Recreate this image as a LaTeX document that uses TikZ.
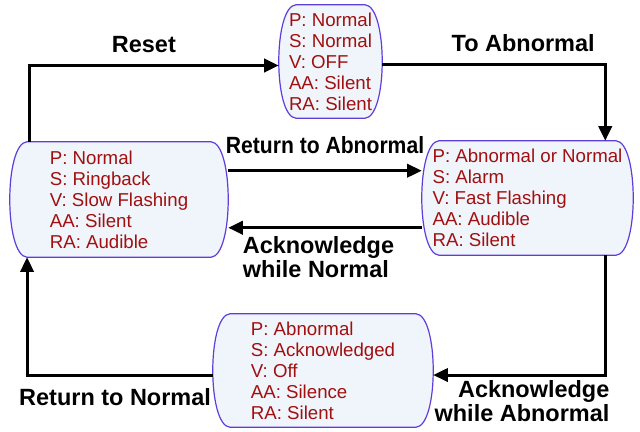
\documentclass[tikz,border=0pt]{standalone}
\usepackage{fontspec}
\setmainfont{Liberation Sans}
\usetikzlibrary{arrows.meta, positioning, backgrounds}
\definecolor{statetext}{RGB}{160,16,16}
\definecolor{stateborder}{RGB}{95,60,220}
\definecolor{statefill}{RGB}{240,245,251}
\tikzstyle{state} = [rectangle, minimum height=84.75pt, align=left, text=statetext,
    font=\fontsize{14pt}{15.75pt}\selectfont]
\tikzstyle{stateshape} = [draw=stateborder, fill=statefill, line width=0.9pt]
\tikzstyle{arrow} = [->, black, line width=2.2pt]
\tikzstyle{trans} = [black, font=\fontsize{17.6pt}{18pt}\selectfont\bfseries]

\begin{document}
\begin{tikzpicture}[x=0.75pt, y=-0.75pt, >={Triangle[length=11pt, width=10pt]}]
    \useasboundingbox (0,0) rectangle (640,432);

    % Place the states
    \node [state, minimum width=163.5pt, minimum height=86.25pt] (ringback) at (119,199.5)
        {P: Normal\\S: Ringback\\V: Slow Flashing\\AA: Silent\\RA: Audible};
    \node [state, minimum width=77.25pt] (normal) at (330.5,61.5)
        {P: Normal\\S: Normal\\V: OFF\\AA: Silent\\RA: Silent};
    \node [state, minimum width=158.25pt, minimum height=85.5pt] (alarm) at (527.5,198)
        {P: Abnormal or Normal\\S: Alarm\\V: Fast Flashing\\AA: Audible\\RA: Silent};
    \node [state, minimum width=165pt] (ack) at (323,370.5)
        {P: Abnormal\\S: Acknowledged\\V: Off\\AA: Silence\\RA: Silent};

    % Outline the states with bulging sides
    \begin{scope}[on background layer]
        \foreach \s in {ringback, normal, alarm, ack}
            \draw [stateshape] ([xshift=13pt]\s.north west)
                .. controls ([xshift=-4.3pt, yshift=-1pt]\s.north west)
                and ([xshift=-4.3pt, yshift=1pt]\s.south west) .. ([xshift=13pt]\s.south west)
                -- ([xshift=-13pt]\s.south east)
                .. controls ([xshift=4.3pt, yshift=1pt]\s.south east)
                and ([xshift=4.3pt, yshift=-1pt]\s.north east) .. ([xshift=-13pt]\s.north east)
                -- cycle;
    \end{scope}

    % Connect the states
    \draw [arrow] ([xshift=14.5pt]ringback.north west) |- node[trans, pos=0.73, above=5pt] {Reset}
        ([yshift=-3pt]normal.west);
    \draw [arrow] ([yshift=-2pt]normal.east) -| node[trans, pos=0.316, above=5pt] {To Abnormal}
        ([xshift=-21pt]alarm.north east);
    \draw [arrow] ([yshift=21.6pt]ringback.east) -- node[trans, above=8pt]
        {\scalebox{0.9}[1]{Return to Abnormal}} ([yshift=21.6pt]ringback.east -| alarm.west);
    \draw [arrow] ([yshift=-21.2pt]ringback.east -| alarm.west) -- node[trans, pos=0.97, below right=3pt, align=left]
        {Acknowledge\\while Normal} ([yshift=-21.2pt]ringback.east);
    \draw [arrow] ([xshift=-21pt]alarm.south east) |- node[trans, pos=0.5, below left, align=right, xshift=7.5pt]
        {Acknowledge\\while Abnormal} ([yshift=-3.4pt]ack.east);
    \draw [arrow] ([yshift=-3.4pt]ack.west) -| node[trans, pos=0.263, below=6pt] {Return to Normal}
        ([xshift=13pt]ringback.south west);
\end{tikzpicture}
\end{document}
